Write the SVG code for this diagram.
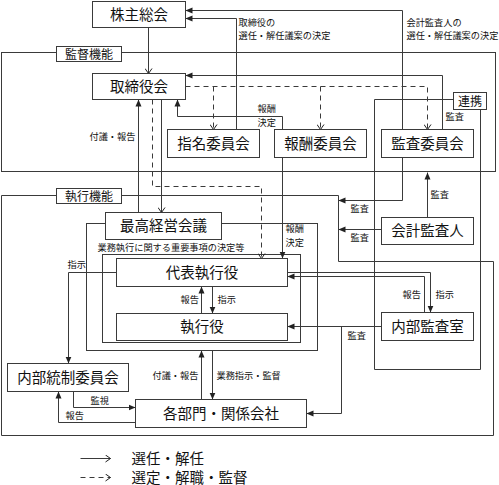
<svg xmlns="http://www.w3.org/2000/svg" width="499" height="485" viewBox="0 0 499 485">
<style>
  .ln{fill:none;stroke:#3a3a3a;stroke-width:1}
  .ds{fill:none;stroke:#3a3a3a;stroke-width:1;stroke-dasharray:5 4}
  .box{fill:#fff;stroke:#3a3a3a;stroke-width:1}
  .nt{font-family:"Noto Sans CJK JP","Noto Sans CJK SC",sans-serif;font-size:14.5px;fill:#111;text-anchor:middle}
  .lb{font-family:"Noto Sans CJK JP","Noto Sans CJK SC",sans-serif;font-size:12px;fill:#111;text-anchor:middle}
  .sm{font-family:"Noto Sans CJK JP","Noto Sans CJK SC",sans-serif;font-size:9.2px;fill:#111}
  .lg{font-family:"Noto Sans CJK JP","Noto Sans CJK SC",sans-serif;font-size:14.5px;fill:#111}
</style>
<defs>
  <marker id="f" viewBox="0 0 7 7" refX="7" refY="3.5" markerWidth="7" markerHeight="7" orient="auto" markerUnits="userSpaceOnUse">
    <path d="M0,0.5 L7,3.5 L0,6.5 Z" fill="#222"/>
  </marker>
  <marker id="o" viewBox="0 0 6 8" refX="5.5" refY="4" markerWidth="6" markerHeight="8" orient="auto" markerUnits="userSpaceOnUse">
    <path d="M0.5,0.5 L5.5,4 L0.5,7.5" fill="none" stroke="#222" stroke-width="1"/>
  </marker>
</defs>
<rect x="0" y="0" width="499" height="485" fill="#fff"/>
<g transform="translate(0.5 0.5)">
  <g id="frames">
    <rect class="ln" x="1" y="52" width="494" height="119"/>
    <path class="ln" d="M1,195 H338 V261 H493 V435 H1 Z"/>
    <rect class="ln" x="86" y="223" width="231" height="127"/>
    <rect class="ln" x="102" y="254" width="198" height="88"/>
    <path class="ln" d="M453,99 H374 V369 H480 V108"/>
  </g>
  <g id="connectors">
    <path class="ln" d="M148,27 V73" marker-end="url(#o)"/>
    <path class="ln" d="M402,129 V10 H185" marker-end="url(#f)"/>
    <path class="ln" d="M236,129 V18 H185" marker-end="url(#f)"/>
    <path class="ln" d="M442,129 V75 H185" marker-end="url(#f)"/>
    <path class="ds" d="M185,86 H427 V129" marker-end="url(#o)"/>
    <path class="ds" d="M213,86 V129" marker-end="url(#o)"/>
    <path class="ds" d="M320,86 V129" marker-end="url(#o)"/>
    <path class="ln" d="M282,129 V116 H177 V99" marker-end="url(#f)"/>
    <path class="ln" d="M138,212 V99" marker-end="url(#f)"/>
    <path class="ln" d="M161,99 V212" marker-end="url(#o)"/>
    <path class="ds" d="M152,99 V186 H261 V258" marker-end="url(#o)"/>
    <path class="ln" d="M282,157 V258" marker-end="url(#f)"/>
    <path class="ln" d="M402,157 V200 H338" marker-end="url(#f)"/>
    <path class="ln" d="M381,229 H338" marker-end="url(#f)"/>
    <path class="ln" d="M427,217 V172" marker-end="url(#f)"/>
    <path class="ln" d="M287,272 H430 V312" marker-end="url(#f)"/>
    <path class="ln" d="M424,312 V276 H287" marker-end="url(#f)"/>
    <path class="ln" d="M381,326 H287" marker-end="url(#f)"/>
    <path class="ln" d="M341,326 V413 H306" marker-end="url(#f)"/>
    <path class="ln" d="M116,272 H68 V363" marker-end="url(#f)"/>
    <path class="ln" d="M201,313 V286" marker-end="url(#f)"/>
    <path class="ln" d="M212,286 V313" marker-end="url(#f)"/>
    <path class="ln" d="M201,399 V350" marker-end="url(#f)"/>
    <path class="ln" d="M212,350 V399" marker-end="url(#f)"/>
    <path class="ln" d="M73,391 V407 H135" marker-end="url(#f)"/>
    <path class="ln" d="M135,422 H58 V391" marker-end="url(#f)"/>
  </g>
  <g id="labels">
    <text class="sm" x="238" y="25">取締役の</text>
    <text class="sm" x="238" y="38.5">選任・解任議案の決定</text>
    <text class="sm" x="406" y="25">会計監査人の</text>
    <text class="sm" x="406" y="38.5">選任・解任議案の決定</text>
    <text class="sm" x="89" y="139.5">付議・報告</text>
    <text class="sm" x="257" y="111.5">報酬</text>
    <text class="sm" x="257" y="125">決定</text>
    <text class="sm" x="445" y="119.5">監査</text>
    <text class="sm" x="430" y="197">監査</text>
    <text class="sm" x="350" y="211.5">監査</text>
    <text class="sm" x="350" y="240.5">監査</text>
    <text class="sm" x="285" y="231.5">報酬</text>
    <text class="sm" x="285" y="245">決定</text>
    <text class="sm" x="97" y="250">業務執行に関する重要事項の決定等</text>
    <text class="sm" x="67" y="267.5">指示</text>
    <text class="sm" x="180" y="302.5">報告</text>
    <text class="sm" x="217" y="302.5">指示</text>
    <text class="sm" x="402" y="297.5">報告</text>
    <text class="sm" x="435" y="297.5">指示</text>
    <text class="sm" x="347" y="338.5">監査</text>
    <text class="sm" x="152" y="378.5">付議・報告</text>
    <text class="sm" x="216" y="378.5">業務指示・監督</text>
    <text class="sm" x="90" y="403.5">監視</text>
    <text class="sm" x="65" y="418.5">報告</text>
  </g>
  <g id="area-kantoku">
    <rect class="box" x="56" y="46" width="65" height="15"/>
    <text class="lb" x="88.5" y="58">監督機能</text>
  </g>
  <g id="area-shikko">
    <rect class="box" x="56" y="188" width="65" height="15"/>
    <text class="lb" x="88.5" y="200">執行機能</text>
  </g>
  <g id="renkei">
    <rect class="box" x="453" y="92" width="33" height="17"/>
    <text class="lb" x="469.5" y="105">連携</text>
  </g>
  <g id="kabunushi">
    <rect class="box" x="92" y="1" width="93" height="26"/>
    <text class="nt" x="138.5" y="19">株主総会</text>
  </g>
  <g id="torishimariyakukai">
    <rect class="box" x="92" y="73" width="93" height="26"/>
    <text class="nt" x="138.5" y="91">取締役会</text>
  </g>
  <g id="shimei">
    <rect class="box" x="167" y="129" width="92" height="28"/>
    <text class="nt" x="213" y="148">指名委員会</text>
  </g>
  <g id="hoshu">
    <rect class="box" x="274" y="129" width="92" height="28"/>
    <text class="nt" x="320" y="148">報酬委員会</text>
  </g>
  <g id="kansa">
    <rect class="box" x="381" y="129" width="92" height="28"/>
    <text class="nt" x="427" y="148">監査委員会</text>
  </g>
  <g id="kaikei">
    <rect class="box" x="381" y="217" width="92" height="27"/>
    <text class="nt" x="427" y="235.5">会計監査人</text>
  </g>
  <g id="saiko">
    <rect class="box" x="105" y="212" width="116" height="27"/>
    <text class="nt" x="163" y="230.5">最高経営会議</text>
  </g>
  <g id="daihyo">
    <rect class="box" x="116" y="258" width="171" height="28"/>
    <text class="nt" x="201.5" y="277">代表執行役</text>
  </g>
  <g id="shikkoyaku">
    <rect class="box" x="116" y="313" width="171" height="27"/>
    <text class="nt" x="201.5" y="331.5">執行役</text>
  </g>
  <g id="naibukansa">
    <rect class="box" x="381" y="312" width="92" height="28"/>
    <text class="nt" x="427" y="331">内部監査室</text>
  </g>
  <g id="naibutosei">
    <rect class="box" x="7" y="363" width="121" height="28"/>
    <text class="nt" x="67.5" y="382">内部統制委員会</text>
  </g>
  <g id="kakubumon">
    <rect class="box" x="135" y="399" width="171" height="28"/>
    <text class="nt" x="220.5" y="418">各部門・関係会社</text>
  </g>
  <g id="legend">
    <path class="ln" d="M80,458 H110" marker-end="url(#o)"/>
    <path class="ds" d="M80,477 H110" marker-end="url(#o)"/>
    <text class="lg" x="131" y="463">選任・解任</text>
    <text class="lg" x="131" y="482">選定・解職・監督</text>
  </g>
</g>
</svg>
